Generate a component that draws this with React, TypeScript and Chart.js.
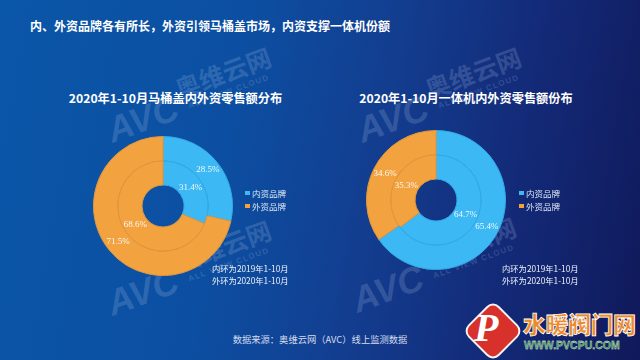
import React, { useEffect, useRef } from "react";
import { Chart, registerables } from "chart.js";

Chart.register(...registerables);

const brandNames = ["内资品牌", "外资品牌"];
const brandColors = ["#3cb8f4", "#f2a23f"];
const ringEdgeColors = ["#34aae4", "#e3963a"];

// Toilet-seat lids: retail share % (outer ring 2020, inner ring 2019)
const lidShare2020 = [28.5, 71.5];
const lidShare2019 = [31.4, 68.6];
// All-in-one smart toilets: retail share %
const unitShare2020 = [65.4, 34.6];
const unitShare2019 = [64.7, 35.3];

const pageTitle = "内、外资品牌各有所长，外资引领马桶盖市场，内资支撑一体机份额";
const lidTitle = "2020年1-10月马桶盖内外资零售额分布";
const unitTitle = "2020年1-10月一体机内外资零售额份布";
const ringNotes = ["内环为2019年1-10月", "外环为2020年1-10月"];
const sourceNote = "数据来源：奥维云网（AVC）线上监测数据";

const CJK = '"Noto Sans CJK SC", "Noto Sans", sans-serif';

// Writes each slice's percentage at the middle of its arc
const sliceLabels = {
  id: "sliceLabels",
  afterDatasetsDraw(chart: any) {
    const ctx = chart.ctx as CanvasRenderingContext2D;
    ctx.save();
    ctx.font = '9px "Liberation Serif", serif';
    ctx.fillStyle = "rgba(255,255,255,0.93)";
    ctx.textAlign = "center";
    ctx.textBaseline = "middle";
    chart.data.datasets.forEach((ds: any, di: number) => {
      const meta = chart.getDatasetMeta(di);
      meta.data.forEach((arc: any, i: number) => {
        const p = arc.tooltipPosition(false);
        ctx.fillText(Number(ds.data[i]).toFixed(1) + "%", p.x, p.y);
      });
    });
    ctx.restore();
  },
};

type RingProps = { outer: number[]; inner: number[]; left: number; top: number; size: number };

function RingChart({ outer, inner, left, top, size }: RingProps) {
  const ref = useRef<HTMLCanvasElement>(null);
  useEffect(() => {
    const chart = new Chart(ref.current as HTMLCanvasElement, {
      type: "doughnut",
      data: {
        labels: brandNames,
        datasets: [
          { label: "2020", data: outer, backgroundColor: brandColors, borderColor: ringEdgeColors, borderWidth: 1 },
          { label: "2019", data: inner, backgroundColor: brandColors, borderColor: ringEdgeColors, borderWidth: 1 },
        ],
      },
      options: {
        responsive: false,
        animation: false,
        cutout: 21,
        rotation: 0,
        layout: { padding: 0 },
        plugins: { legend: { display: false }, tooltip: { enabled: false } },
      } as any,
      plugins: [sliceLabels],
    });
    return () => chart.destroy();
  }, [outer, inner]);
  return (
    <canvas
      ref={ref}
      width={size}
      height={size}
      style={{ position: "absolute", left, top, width: size, height: size }}
    />
  );
}

function Legend({ x, y }: { x: number; y: number }) {
  return (
    <>
      {brandNames.map((name, i) => (
        <div
          key={name}
          style={{
            position: "absolute",
            left: x,
            top: y + i * 13 - 5,
            height: 10,
            display: "flex",
            alignItems: "center",
            fontFamily: CJK,
            fontSize: 8.5,
            lineHeight: "10px",
            color: "#dde6f4",
            whiteSpace: "nowrap",
          }}
        >
          <span style={{ width: 4.5, height: 4.5, background: brandColors[i], marginRight: 2.5 }} />
          {name}
        </div>
      ))}
    </>
  );
}

function Notes({ x, y }: { x: number; y: number }) {
  return (
    <div
      style={{
        position: "absolute",
        left: x,
        top: y,
        fontFamily: CJK,
        fontSize: 8.3,
        lineHeight: "12px",
        color: "#eef2fa",
        whiteSpace: "nowrap",
      }}
    >
      {ringNotes.map((t) => (
        <div key={t}>{t}</div>
      ))}
    </div>
  );
}

function Watermark({ x, y }: { x: number; y: number }) {
  const tint = "rgba(190,208,235,0.2)";
  return (
    <div style={{ position: "absolute", left: x, top: y, transform: "rotate(-20deg)", transformOrigin: "0 0", pointerEvents: "none" }}>
      <div style={{ position: "absolute", left: 0, top: 18, fontFamily: "Liberation Sans, sans-serif", fontWeight: 700, fontStyle: "italic", fontSize: 36, color: tint, whiteSpace: "nowrap" }}>AVC</div>
      <div style={{ position: "absolute", left: 78, top: 8, fontFamily: CJK, fontWeight: 700, fontSize: 25, color: tint, whiteSpace: "nowrap", lineHeight: "28px" }}>奥维云网</div>
      <div style={{ position: "absolute", left: 84, top: 38, fontFamily: "Liberation Sans, sans-serif", fontWeight: 700, fontSize: 8, letterSpacing: 1.2, color: tint, whiteSpace: "nowrap" }}>ALL VIEW CLOUD</div>
    </div>
  );
}

function SiteBadge() {
  return (
    <>
      <div
        style={{
          position: "absolute",
          left: 471,
          top: 309,
          width: 40,
          height: 40,
          background: "#d8302a",
          border: "2px solid #f3f3f3",
          borderRadius: 9,
          transform: "rotate(45deg)",
        }}
      />
      <div style={{ position: "absolute", left: 474, top: 304, fontFamily: "Liberation Serif, serif", fontStyle: "italic", fontWeight: 700, fontSize: 40, lineHeight: "48px", color: "#ffffff" }}>P</div>
      <div
        style={{
          position: "absolute",
          left: 523,
          top: 309,
          fontFamily: CJK,
          fontWeight: 900,
          fontSize: 23,
          lineHeight: "28px",
          color: "#ee8a2a",
          WebkitTextStroke: "0.8px #ffffff",
          whiteSpace: "nowrap",
          letterSpacing: -0.5,
        }}
      >
        水暖阀门网
      </div>
      <div
        style={{
          position: "absolute",
          left: 524,
          top: 339,
          fontFamily: "Liberation Sans, sans-serif",
          fontWeight: 700,
          fontSize: 10.5,
          lineHeight: "12px",
          color: "#2f8f3a",
          WebkitTextStroke: "0.3px #ffffff",
          whiteSpace: "nowrap",
        }}
      >
        WWW.PVCPU.COM
      </div>
    </>
  );
}

export default function App() {
  const centered = (cx: number, cy: number, size: number, extra: React.CSSProperties = {}): React.CSSProperties => ({
    position: "absolute",
    left: cx,
    top: cy - size / 2,
    transform: "translateX(-50%)",
    fontSize: size,
    lineHeight: `${size}px`,
    whiteSpace: "nowrap",
    fontFamily: CJK,
    ...extra,
  });

  return (
    <div
      style={{
        position: "fixed",
        left: 0,
        top: 0,
        width: 640,
        height: 360,
        overflow: "hidden",
        background: "linear-gradient(100deg, #0a56a8 0%, #0c4fa2 35%, #133d8f 58%, #132a78 78%, #10195a 100%)",
      }}
    >
      <Watermark x={95} y={95} />
      <Watermark x={345} y={95} />
      <Watermark x={95} y={268} />
      <Watermark x={340} y={265} />

      <div style={{ position: "absolute", left: 30, top: 20, fontFamily: CJK, fontWeight: 700, fontSize: 12, lineHeight: "12px", color: "#ffffff", whiteSpace: "nowrap" }}>
        {pageTitle}
      </div>

      <div style={centered(175.5, 98.5, 12.2, { fontWeight: 700, color: "#ffffff" })}>{lidTitle}</div>
      <div style={centered(466, 98, 12.2, { fontWeight: 700, color: "#ffffff" })}>{unitTitle}</div>

      <RingChart outer={lidShare2020} inner={lidShare2019} left={93} top={136} size={140} />
      <RingChart outer={unitShare2020} inner={unitShare2019} left={366} top={130} size={140} />

      <Legend x={245} y={193} />
      <Legend x={519} y={193} />

      <Notes x={212} y={262} />
      <Notes x={502} y={262} />

      <div style={centered(320, 340, 9.3, { color: "#d3dcee" })}>{sourceNote}</div>

      <SiteBadge />
    </div>
  );
}
